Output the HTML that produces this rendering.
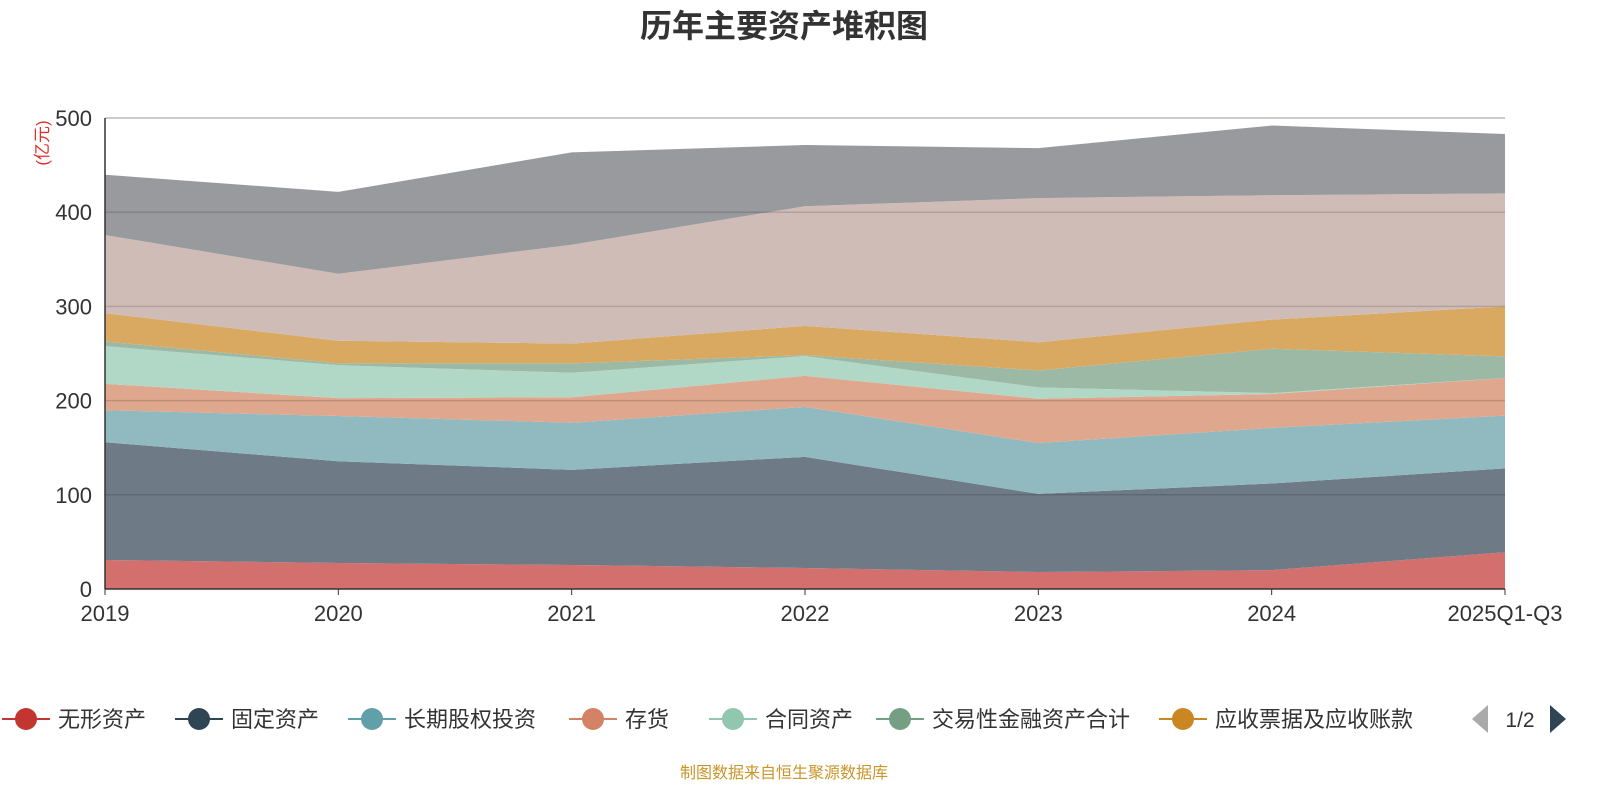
<!DOCTYPE html>
<html><head><meta charset="utf-8"><style>
body{margin:0;background:#fff;width:1600px;height:800px;overflow:hidden;font-family:"Liberation Sans","Noto Sans CJK SC",sans-serif}
</style></head><body>
<svg id="chart" width="1600" height="800" xmlns="http://www.w3.org/2000/svg" font-family="Liberation Sans, Noto Sans CJK SC, sans-serif">
<text x="784" y="37" text-anchor="middle" font-size="32" font-weight="bold" fill="#333">历年主要资产堆积图</text>
<text transform="translate(48,143) rotate(-90)" text-anchor="middle" font-size="17" fill="#e03030">(亿元)</text>
<g id="areas"></g><g id="grid"></g><g id="axes"></g><g id="legend"></g>
<text x="1520" y="727" text-anchor="middle" font-size="21" fill="#333">1/2</text>
<polygon points="1472,719 1488,705 1488,733" fill="#aaa"/>
<polygon points="1566,719 1550,705 1550,733" fill="#2f4554"/>
<text x="784" y="778" text-anchor="middle" font-size="16" fill="#c8962a">制图数据来自恒生聚源数据库</text>
</svg>
<script>
const categories=["2019","2020","2021","2022","2023","2024","2025Q1-Q3"];
const seriesNames=["无形资产","固定资产","长期股权投资","存货","合同资产","交易性金融资产合计","应收票据及应收账款","货币资金","其他资产"];
const s0=[30.8,27.6,25.5,22.3,18,20,39];
const s1=[125,108,101,118,83,92,89];
const s2=[34,48,50,53,54,59,56];
const s3=[28,19,27,33,47,36,40];
const s4=[40,35,26,21,12,1,0];
const s5=[5,2,10,1,18,47,23];
const s6=[30,24,21,31,30,31,53];
const s7=[83,71,105,127,153,132,120];
const s8=[64,87,98,65,53,74,63];
const seriesValues=[s0,s1,s2,s3,s4,s5,s6,s7,s8];
const yTicks=[0,100,200,300,400,500];
const fills=["#d36f6c","#6e7b87","#90babf","#e0a78f","#b1d8c6","#9cb9a6","#d9a962","#d0bcb7","#999a9e"];
const legendColors=["#c23531","#2f4554","#61a0a8","#d48265","#91c7ae","#749f83","#ca8622"];
const NS="http://www.w3.org/2000/svg";
const X0=105,X1=1505,Y0=589,Y1=118;
const xs=i=>X0+i*(X1-X0)/(categories.length-1);
const ys=v=>Y0-v*(Y0-Y1)/500;
function mk(t,a,p){const e=document.createElementNS(NS,t);for(const k in a)e.setAttribute(k,a[k]);p.appendChild(e);return e;}
const grid=document.getElementById('grid'),axes=document.getElementById('axes'),areas=document.getElementById('areas'),legend=document.getElementById('legend');
yTicks.forEach(t=>{
 if(t>0){const l=mk('line',{x1:X0,x2:X1,y1:ys(t),y2:ys(t),stroke:t==500?'#bbb':'rgba(0,0,0,0.15)','stroke-width':1.5},grid);
 
 }
 const tx=mk('text',{x:92,y:ys(t)+8,'text-anchor':'end','font-size':22,fill:'#333'},axes);tx.textContent=t;
 
 
});
let cum=categories.map(()=>0);
seriesValues.forEach((s,k)=>{
 const lo=cum.slice();cum=cum.map((c,i)=>c+s[i]);
 let d='M'+categories.map((_,i)=>xs(i)+','+ys(cum[i])).join('L');
 for(let i=categories.length-1;i>=0;i--)d+='L'+xs(i)+','+ys(lo[i]);
 const p=mk('path',{d:d+'Z',fill:fills[k]},areas);
 
 
});
const ax=mk('line',{x1:X0,x2:X1,y1:Y0,y2:Y0,stroke:'#333','stroke-width':1.5},axes);


const ay=mk('line',{x1:X0,x2:X0,y1:Y1,y2:Y0,stroke:'#333','stroke-width':1.5},axes);


categories.forEach((c,i)=>{
 mk('line',{x1:xs(i),x2:xs(i),y1:Y0,y2:Y0+6,stroke:'#333'},axes);
 const t=mk('text',{x:xs(i),y:621,'text-anchor':'middle','font-size':22,fill:'#333'},axes);t.textContent=c;
 
 
});
const lx=[26,199,372,593,733,900,1183];
legendColors.forEach((c,i)=>{
 const g=mk('g',{},legend);
 
 
 mk('line',{x1:lx[i]-24,x2:lx[i]+24,y1:719,y2:719,stroke:c,'stroke-width':2},g);
 mk('circle',{cx:lx[i],cy:719,r:11,fill:c},g);
 const t=mk('text',{x:lx[i]+32,y:727,'font-size':22,fill:'#333'},g);t.textContent=seriesNames[i];
});
</script>
</body></html>
